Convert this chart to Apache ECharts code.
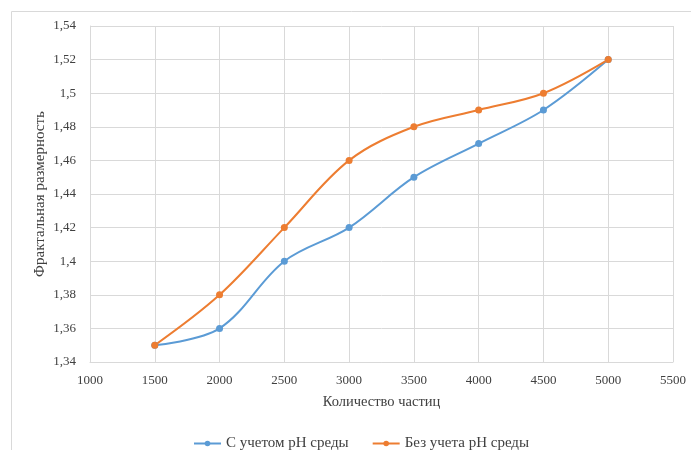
<!DOCTYPE html>
<html>
<head>
<meta charset="utf-8">
<script src="https://cdn.jsdelivr.net/npm/echarts@6/dist/echarts.min.js"></script>
<style>
  html, body { margin: 0; padding: 0; background: #fff; }
  #chart { width: 691px; height: 450px; }
</style>
</head>
<body>
<div id="chart"></div>
<script>
// Number of particles on the x axis
const particles = [1500, 2000, 2500, 3000, 3500, 4000, 4500, 5000];
// Fractal dimension, accounting for medium pH
const withPH = [1.35, 1.36, 1.40, 1.42, 1.45, 1.47, 1.49, 1.52];
// Fractal dimension, ignoring medium pH
const withoutPH = [1.35, 1.38, 1.42, 1.46, 1.48, 1.49, 1.50, 1.52];

const seriesNames = ['С учетом pH среды', 'Без учета pH среды'];
const xTitle = 'Количество частиц';
const yTitle = 'Фрактальная размерность';

const FONT = '"Liberation Serif", "Times New Roman", serif';
const TEXT = '#404040';

const fmtY = v => String(parseFloat(v.toFixed(2))).replace('.', ',');
const fmtX = v => String(v);

const chart = echarts.init(document.getElementById('chart'));
chart.setOption({
  animation: false,
  textStyle: { fontFamily: FONT },
  graphic: [{
    type: 'rect',
    shape: { x: 11.5, y: 11.5, width: 700, height: 500 },
    style: { fill: 'none', stroke: '#d9d9d9', lineWidth: 1 },
    silent: true
  }],
  grid: { left: 90, right: 18, top: 26, bottom: 88, containLabel: false },
  xAxis: {
    type: 'value',
    min: 1000, max: 5500, interval: 500,
    name: xTitle, nameLocation: 'middle', nameGap: 33,
    nameTextStyle: { fontFamily: FONT, fontSize: 14.5, color: TEXT },
    axisLine: { lineStyle: { color: '#d9d9d9' } },
    axisTick: { show: false },
    axisLabel: { fontFamily: FONT, fontSize: 13, color: TEXT, margin: 12, formatter: fmtX },
    splitLine: { show: true, lineStyle: { color: '#d9d9d9' } }
  },
  yAxis: {
    type: 'value',
    min: 1.34, max: 1.54, interval: 0.02,
    name: yTitle, nameLocation: 'middle', nameGap: 42, nameRotate: 90,
    nameMoveOverlap: false,
    nameTextStyle: { fontFamily: FONT, fontSize: 15, color: TEXT },
    axisLine: { show: true, lineStyle: { color: '#d9d9d9' } },
    axisTick: { show: false },
    axisLabel: { fontFamily: FONT, fontSize: 13, color: TEXT, margin: 14, formatter: fmtY },
    splitLine: { show: true, lineStyle: { color: '#d9d9d9' } }
  },
  legend: {
    top: 436, left: 193, padding: 0,
    itemWidth: 27, itemHeight: 7, itemGap: 23,
    textStyle: { fontFamily: FONT, fontSize: 15, color: TEXT },
    data: seriesNames
  },
  series: [
    {
      name: seriesNames[0], type: 'line', smooth: 0.35,
      data: particles.map((x, i) => [x, withPH[i]]),
      symbol: 'circle', symbolSize: 7,
      lineStyle: { width: 2, color: '#5B9BD5' },
      itemStyle: { color: '#5B9BD5' }
    },
    {
      name: seriesNames[1], type: 'line', smooth: 0.35,
      data: particles.map((x, i) => [x, withoutPH[i]]),
      symbol: 'circle', symbolSize: 7,
      lineStyle: { width: 2, color: '#ED7D31' },
      itemStyle: { color: '#ED7D31' }
    }
  ]
});
</script>
</body>
</html>
